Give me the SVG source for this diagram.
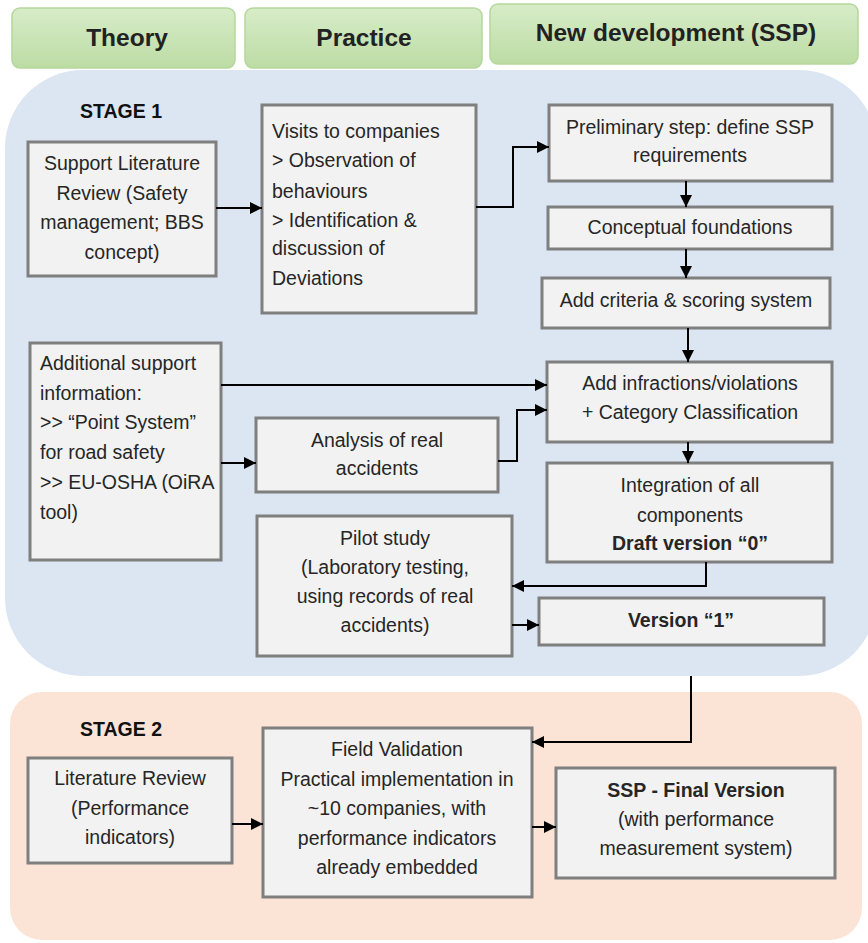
<svg xmlns="http://www.w3.org/2000/svg" width="868" height="943" viewBox="0 0 868 943">
<defs>
<linearGradient id="hdr" x1="0" y1="0" x2="0" y2="1">
<stop offset="0" stop-color="#d7ecc8"/>
<stop offset="1" stop-color="#bcdca4"/>
</linearGradient>
<marker id="ah" markerUnits="userSpaceOnUse" markerWidth="12" markerHeight="12" viewBox="0 0 12 12" refX="12" refY="6" orient="auto">
<path d="M0,0 L12,6 L0,12 Z" fill="#000"/>
</marker>
<style>
.hdr{fill:url(#hdr);stroke:#b5d69c;stroke-width:1.5}
.ht{font-family:"Liberation Sans",Arial,sans-serif;font-weight:bold;font-size:24.5px;fill:#222;text-anchor:middle}
.stg{font-family:"Liberation Sans",Arial,sans-serif;font-weight:bold;font-size:19.5px;fill:#111}
.box{fill:#f2f2f2;stroke:#7f7f7f;stroke-width:3}
.t{font-family:"Liberation Sans",Arial,sans-serif;font-size:19.5px;fill:#262626}
.c{text-anchor:middle}
.b{font-weight:bold}
.con{fill:none;stroke:#000;stroke-width:2;marker-end:url(#ah)}
</style>
</defs>

<rect x="5" y="70" width="872" height="606" rx="78" fill="#dce6f2"/>
<rect x="10" y="692" width="852" height="248" rx="32" fill="#fbe4d6"/>

<g id="hdr-theory"><rect class="hdr" x="12" y="8" width="223" height="60" rx="8"/><text class="ht" x="127" y="46">Theory</text></g>
<g id="hdr-practice"><rect class="hdr" x="245" y="8" width="237" height="60" rx="8"/><text class="ht" x="364" y="46">Practice</text></g>
<g id="hdr-new"><rect class="hdr" x="490" y="4" width="368" height="60" rx="8"/><text class="ht" x="676" y="41">New development (SSP)</text></g>

<text class="stg" x="80" y="118">STAGE 1</text>
<text class="stg" x="80" y="736">STAGE 2</text>

<g id="support-lit">
<rect class="box" x="28" y="142" width="188" height="134"/>
<text class="t c" x="122"><tspan x="122" y="170">Support Literature</tspan><tspan x="122" y="200">Review (Safety</tspan><tspan x="122" y="229">management; BBS</tspan><tspan x="122" y="259">concept)</tspan></text>
</g>

<g id="visits">
<rect class="box" x="262" y="105" width="214" height="208"/>
<text class="t"><tspan x="272" y="138">Visits to companies</tspan><tspan x="272" y="167">&gt; Observation of</tspan><tspan x="272" y="198">behaviours</tspan><tspan x="272" y="227">&gt; Identification &amp;</tspan><tspan x="272" y="255">discussion of</tspan><tspan x="272" y="285">Deviations</tspan></text>
</g>

<g id="prelim">
<rect class="box" x="549" y="105" width="283" height="76"/>
<text class="t c"><tspan x="690" y="134">Preliminary step: define SSP</tspan><tspan x="690" y="162">requirements</tspan></text>
</g>

<g id="conceptual">
<rect class="box" x="548" y="207" width="284" height="42"/>
<text class="t c" x="690" y="234">Conceptual foundations</text>
</g>

<g id="criteria">
<rect class="box" x="542" y="278" width="288" height="50"/>
<text class="t c" x="686" y="307">Add criteria &amp; scoring system</text>
</g>

<g id="additional">
<rect class="box" x="30" y="343" width="191" height="217"/>
<text class="t"><tspan x="40" y="370">Additional support</tspan><tspan x="40" y="400">information:</tspan><tspan x="40" y="429">&gt;&gt; “Point System”</tspan><tspan x="40" y="459">for road safety</tspan><tspan x="40" y="489">&gt;&gt; EU-OSHA (OiRA</tspan><tspan x="40" y="519">tool)</tspan></text>
</g>

<g id="analysis">
<rect class="box" x="256" y="418" width="242" height="74"/>
<text class="t c"><tspan x="377" y="447">Analysis of real</tspan><tspan x="377" y="475">accidents</tspan></text>
</g>

<g id="infractions">
<rect class="box" x="547" y="362" width="285" height="80"/>
<text class="t c"><tspan x="690" y="390">Add infractions/violations</tspan><tspan x="690" y="419">+ Category Classification</tspan></text>
</g>

<g id="integration">
<rect class="box" x="547" y="463" width="285" height="99"/>
<text class="t c"><tspan x="690" y="492">Integration of all</tspan><tspan x="690" y="522">components</tspan><tspan class="b" x="690" y="550">Draft version “0”</tspan></text>
</g>

<g id="pilot">
<rect class="box" x="257" y="516" width="255" height="140"/>
<text class="t c"><tspan x="385" y="545">Pilot study</tspan><tspan x="385" y="574">(Laboratory testing,</tspan><tspan x="385" y="603">using records of real</tspan><tspan x="385" y="632">accidents)</tspan></text>
</g>

<g id="version1">
<rect class="box" x="539" y="598" width="285" height="47"/>
<text class="t c b" x="681" y="627">Version “1”</text>
</g>

<g id="lit-review">
<rect class="box" x="28" y="758" width="204" height="105"/>
<text class="t c"><tspan x="130" y="785">Literature Review</tspan><tspan x="130" y="815">(Performance</tspan><tspan x="130" y="844">indicators)</tspan></text>
</g>

<g id="field">
<rect class="box" x="263" y="728" width="269" height="169"/>
<text class="t c"><tspan x="397" y="756">Field Validation</tspan><tspan x="397" y="786">Practical implementation in</tspan><tspan x="397" y="815">~10 companies, with</tspan><tspan x="397" y="845">performance indicators</tspan><tspan x="397" y="874">already embedded</tspan></text>
</g>

<g id="ssp-final">
<rect class="box" x="556" y="768" width="279" height="110"/>
<text class="t c"><tspan class="b" x="696" y="797">SSP - Final Version</tspan><tspan x="696" y="826">(with performance</tspan><tspan x="696" y="855">measurement system)</tspan></text>
</g>

<g id="connectors">
<path class="con" d="M216 208 H262"/>
<path class="con" d="M476 207 H513 V147 H549"/>
<path class="con" d="M686 181 V207"/>
<path class="con" d="M686 249 V278"/>
<path class="con" d="M688 328 V362"/>
<path class="con" d="M221 385 H547"/>
<path class="con" d="M221 463 H256"/>
<path class="con" d="M498 461 H517 V410 H547"/>
<path class="con" d="M688 442 V463"/>
<path class="con" d="M706 562 V586 H512"/>
<path class="con" d="M512 625 H539"/>
<path class="con" d="M691 676 V742 H532"/>
<path class="con" d="M232 824 H263"/>
<path class="con" d="M532 827 H556"/>
</g>
</svg>
